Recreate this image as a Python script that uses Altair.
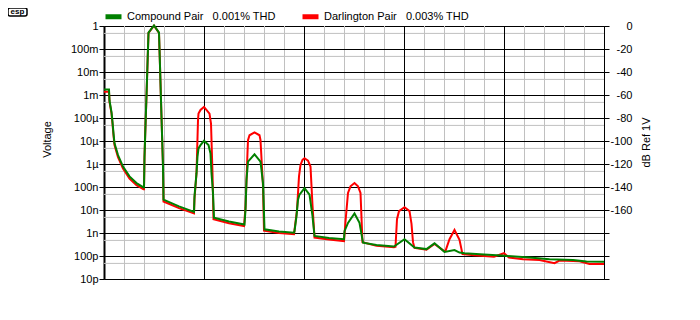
import altair as alt
import pandas as pd

# ---- data (frequency in kHz, level in dB re 1 V) ----
freq_compound = [0.00, 0.10, 0.11, 0.15, 0.17, 0.19, 0.21, 0.28, 0.38, 0.51, 0.65, 0.79,
                 0.80, 0.81, 0.83, 0.85, 0.87, 0.89, 1.00, 1.10, 1.12, 1.14, 1.16, 1.18, 1.19,
                 1.50, 1.80, 1.81, 1.85, 1.87, 1.89, 1.93, 2.00, 2.09, 2.13, 2.15, 2.18, 2.20,
                 2.50, 2.81, 2.83, 2.85, 2.88, 3.01, 3.13, 3.18, 3.21, 3.50, 3.80, 3.81, 3.85,
                 3.88, 3.91, 4.01, 4.11, 4.17, 4.21, 4.50, 4.80, 4.81, 4.88, 5.01, 5.11, 5.18,
                 5.45, 5.80, 6.01, 6.21, 6.45, 6.61, 6.81, 7.01, 7.11, 7.21, 7.60, 8.02, 8.51,
                 8.91, 9.38, 9.65, 10.0]
db_compound = [-55.2, -55.2, -64.8, -74.8, -83.4, -93.4, -102.0, -112.2, -122.2, -130.8, -136.6, -140.4,
               -140.4, -113.6, -86.2, -60.4, -33.0, -5.8, 0.5, -5.8, -34.6, -64.8, -93.4, -122.2, -151.0,
               -156.8, -161.6, -148.0, -128.0, -113.6, -106.4, -103.6, -99.8, -103.6, -110.8, -128.0, -145.2, -166.8,
               -170.0, -172.6, -159.6, -133.8, -118.0, -111.6, -118.0, -136.6, -176.8, -178.6, -179.8, -178.4, -165.4,
               -151.0, -146.6, -141.0, -146.6, -165.4, -182.6, -184.4, -185.4, -178.4, -171.2, -163.0, -171.2, -188.4,
               -190.4, -191.8, -185.4, -192.6, -194.0, -189.0, -196.4, -194.8, -197.0, -197.6, -198.6, -199.8, -201.4,
               -202.8, -203.4, -204.8, -205.0]

freq_darlington = [0.00, 0.10, 0.11, 0.15, 0.17, 0.19, 0.21, 0.28, 0.38, 0.51, 0.65, 0.79,
                   0.80, 0.81, 0.83, 0.85, 0.87, 0.89, 1.00, 1.10, 1.12, 1.14, 1.16, 1.18, 1.19,
                   1.50, 1.80, 1.81, 1.85, 1.88, 1.89, 1.93, 2.00, 2.11, 2.14, 2.17, 2.19,
                   2.50, 2.80, 2.83, 2.87, 2.88, 2.91, 3.01, 3.11, 3.13, 3.18, 3.20,
                   3.50, 3.80, 3.86, 3.90, 3.93, 3.97, 4.01, 4.08, 4.13, 4.17, 4.21,
                   4.50, 4.80, 4.83, 4.88, 4.93, 5.01, 5.08, 5.13, 5.17,
                   5.45, 5.80, 5.83, 5.86, 5.90, 6.01, 6.11, 6.15, 6.18, 6.21,
                   6.45, 6.61, 6.81, 6.83, 6.91, 7.01, 7.11, 7.17, 7.40, 7.80, 8.00, 8.10,
                   8.38, 8.71, 9.01, 9.11, 9.51, 9.71, 10.0]
db_darlington = [-57.2, -57.2, -66.0, -76.0, -85.0, -95.0, -103.5, -114.0, -124.0, -132.6, -138.4, -142.0,
                 -142.0, -113.6, -86.4, -60.6, -33.2, -6.0, 0.3, -6.0, -34.8, -65.0, -93.6, -122.4, -152.6,
                 -158.4, -163.0, -150.0, -128.0, -82.0, -76.2, -73.0, -70.4, -76.2, -84.8, -128.0, -168.0,
                 -171.6, -174.0, -158.0, -110.0, -99.2, -95.0, -92.6, -95.0, -99.2, -139.4, -178.0,
                 -180.0, -181.0, -160.0, -130.8, -120.8, -116.4, -115.0, -117.0, -122.2, -156.0, -184.0,
                 -185.6, -187.0, -170.0, -145.2, -139.4, -136.6, -139.4, -145.2, -188.0,
                 -191.2, -192.4, -192.0, -168.0, -161.0, -157.6, -161.0, -172.0, -188.0, -193.0,
                 -194.6, -189.6, -196.0, -195.6, -185.4, -177.4, -186.0, -198.4, -199.4, -200.6, -197.6, -201.4,
                 -202.8, -203.4, -206.2, -204.0, -204.6, -207.0, -207.0]

series_names = ["Compound Pair", "Darlington Pair"]
series_thd = ["0.001% THD", "0.003% THD"]
series_colors = ["#008000", "#FF0000"]

db_ticks = list(range(-220, 1, 20))
volt_labels = ["10p", "100p", "1n", "10n", "100n", "1\u00b5", "10\u00b5", "100\u00b5", "1m", "10m", "100m", "1"]
x_labels = [0, 2, 4, 6, 8, 10]
major_khz = [2, 4, 6, 8]
minor_khz = [0.4, 0.8, 1.2, 1.6, 2.4, 2.8, 3.2, 3.6, 4.4, 4.8, 5.2, 5.6,
             6.4, 6.8, 7.2, 7.6, 8.4, 8.8, 9.2, 9.6]
major_db = list(range(-200, 0, 20))
minor_db = [-6.0, -26.0, -46.0, -66.0, -86.0, -106.0, -126.0, -146.0, -166.0, -186.0, -206.0]

FONT = "Liberation Sans"

# ---- frames ----
df = pd.concat([
    pd.DataFrame({"f": freq_darlington, "db": db_darlington, "series": series_names[1]}),
    pd.DataFrame({"f": freq_compound, "db": db_compound, "series": series_names[0]}),
], ignore_index=True)

xscale = alt.Scale(domain=[0, 10], nice=False, zero=False)
yscale = alt.Scale(domain=[-220, 0], nice=False, zero=False)

label_map = "{" + ",".join(f"'{v}':'{l}'" for v, l in zip(db_ticks, volt_labels)) + "}"
legend_expr = ("datum.label == '%s' ? '%s\u00a0\u00a0\u00a0%s' : '%s\u00a0\u00a0\u00a0%s'"
               % (series_names[0], series_names[0], series_thd[0], series_names[1], series_thd[1]))

GRAY = "#c0c0c0"

minor_h = alt.Chart(pd.DataFrame({"mdb": minor_db})).mark_rule(
    stroke=GRAY, strokeWidth=1, yOffset=0.5).encode(
    y=alt.Y("mdb:Q", scale=yscale, axis=None))
minor_v = alt.Chart(pd.DataFrame({"mf": minor_khz})).mark_rule(
    stroke=GRAY, strokeWidth=1, xOffset=0.5).encode(
    x=alt.X("mf:Q", scale=xscale, axis=None))
major_h = alt.Chart(pd.DataFrame({"jdb": major_db})).mark_rule(
    stroke="black", strokeWidth=1, yOffset=0.5).encode(
    y=alt.Y("jdb:Q", scale=yscale, axis=None))
major_v = alt.Chart(pd.DataFrame({"jf": major_khz})).mark_rule(
    stroke="black", strokeWidth=1, xOffset=0.5).encode(
    x=alt.X("jf:Q", scale=xscale, axis=None))

lines = alt.Chart(df).mark_line(strokeWidth=2).encode(
    x=alt.X("f:Q", scale=xscale, axis=alt.Axis(
        values=x_labels, grid=False, ticks=False, domain=True, domainWidth=2, domainColor="black",
        labelFontSize=11, labelPadding=4, labelColor="black", labelFont=FONT,
        title="Frequency, kHz", titleX=-1, titleY=27, titleAlign="left", titleBaseline="middle",
        titleFontSize=11, titleFontWeight="normal", titleFont=FONT, titleColor="black")),
    y=alt.Y("db:Q", scale=yscale, axis=alt.Axis(
        orient="left", values=db_ticks, labelExpr=label_map + "[''+datum.value]",
        grid=False, tickSize=5, tickColor="black", domainWidth=2, domainColor="black",
        labelPadding=1, labelFontSize=11, labelFont=FONT, labelColor="black", labelBaseline="middle",
        title="Voltage", titleX=-52, titleY=113, titleFontSize=11, titleFontWeight="normal",
        titleFont=FONT, titleColor="black")),
    color=alt.Color("series:N", scale=alt.Scale(domain=series_names, range=series_colors),
                    legend=alt.Legend(
                        orient="none", legendX=-1, legendY=-20, direction="horizontal", title=None,
                        symbolType="M-1,0H1", symbolSize=256, symbolStrokeWidth=5,
                        labelExpr=legend_expr, labelFontSize=11, labelFont=FONT, labelColor="black",
                        labelOffset=3, columnPadding=16, padding=0, labelLimit=400)),
    order=alt.Order("f:Q"),
    detail="series:N",
)

right_axis = alt.Chart(pd.DataFrame({"db": db_ticks})).mark_rule(opacity=0).encode(
    y=alt.Y("db:Q", scale=yscale, axis=alt.Axis(
        orient="right", values=db_ticks,
        labelExpr="datum.value >= -160 ? '' + datum.value : ''",
        grid=False, tickSize=5, tickColor="black", domainWidth=1, domainColor="black",
        labelAlign="right", labelPadding=23, labelFontSize=11, labelFont=FONT, labelColor="black",
        labelBaseline="middle",
        title="dB Ref 1V", titleAngle=270, titleX=47, titleY=116, titleFontSize=11,
        titleFontWeight="normal", titleFont=FONT, titleColor="black")))

logo_box = alt.Chart(pd.DataFrame({"t": ["esp"]})).mark_rect(
    fillOpacity=0, stroke="black", strokeWidth=1.5, cornerRadius=2).encode(
    x=alt.value(-96), x2=alt.value(-77), y=alt.value(-18), y2=alt.value(-10))
logo_text = alt.Chart(pd.DataFrame({"t": ["esp"]})).mark_text(
    fontSize=8, fontWeight="bold", font=FONT, color="black", baseline="middle").encode(
    x=alt.value(-86.5), y=alt.value(-14.5), text="t:N")

chart = alt.layer(minor_h, minor_v, major_h, major_v, lines, right_axis, logo_box, logo_text).resolve_scale(
    y="independent"
).properties(
    width=500, height=253,
    autosize=alt.AutoSizeParams(type="none"),
    padding={"left": 96, "top": 18, "right": 88, "bottom": 33},
    background="white",
).configure_view(stroke="black", strokeWidth=1)

chart.save("out.html", embed_options={"renderer": "svg", "actions": False})
